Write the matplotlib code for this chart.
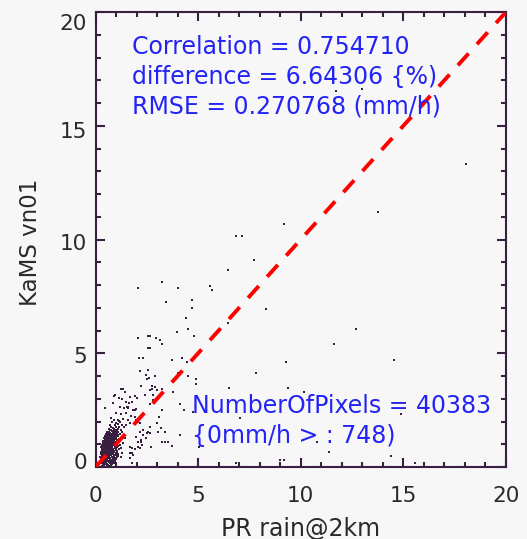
import matplotlib
matplotlib.use("Agg")
import matplotlib.pyplot as plt
import matplotlib.transforms as mtransforms
from matplotlib.ticker import MultipleLocator

plt.rcParams["lines.scale_dashes"] = False

# ---- chart content -------------------------------------------------------
x_title = "PR rain@2km"
y_title = "KaMS vn01"
stats_lines = ["Correlation = 0.754710",
               "difference = 6.64306 {%)",
               "RMSE = 0.270768 (mm/h)"]
count_lines = ["NumberOfPixels = 40383",
               "{0mm/h > : 748)"]
axis_range = [0, 20]
major_ticks = [0, 5, 10, 15, 20]

# dense group of light-rain pixels near the origin
core_pts = [
    (0.30, 0.04), (0.42, 0.07), (0.55, 0.03), (0.68, 0.06),
    (0.36, 0.10), (0.49, 0.11), (0.62, 0.09), (0.76, 0.10),
    (0.27, 0.16), (0.36, 0.13), (0.47, 0.17), (0.58, 0.14), (0.70, 0.18), (0.82, 0.12),
    (0.31, 0.20), (0.42, 0.21), (0.53, 0.19), (0.65, 0.21), (0.78, 0.20), (0.91, 0.19),
    (0.25, 0.26), (0.33, 0.23), (0.41, 0.27), (0.50, 0.24), (0.61, 0.28), (0.72, 0.22),
    (0.85, 0.27), (0.97, 0.24),
    (0.33, 0.31), (0.41, 0.30), (0.49, 0.32), (0.58, 0.31), (0.69, 0.30), (0.81, 0.31),
    (0.95, 0.30),
    (0.28, 0.36), (0.37, 0.33), (0.45, 0.37), (0.53, 0.34), (0.64, 0.38), (0.75, 0.32),
    (0.88, 0.36), (1.02, 0.34),
    (0.28, 0.41), (0.36, 0.40), (0.44, 0.42), (0.53, 0.41), (0.61, 0.40), (0.71, 0.41),
    (0.84, 0.40), (0.99, 0.41),
    (0.24, 0.46), (0.32, 0.43), (0.40, 0.47), (0.49, 0.44), (0.57, 0.48), (0.66, 0.42),
    (0.78, 0.46), (0.91, 0.44), (1.08, 0.47), (1.22, 0.43),
    (0.34, 0.51), (0.42, 0.50), (0.50, 0.52), (0.59, 0.51), (0.67, 0.50), (0.77, 0.51),
    (0.89, 0.50), (1.03, 0.51),
    (0.29, 0.56), (0.38, 0.53), (0.46, 0.57), (0.54, 0.54), (0.63, 0.58), (0.71, 0.52),
    (0.83, 0.56), (0.95, 0.54), (1.12, 0.57),
    (0.31, 0.61), (0.39, 0.60), (0.47, 0.62), (0.56, 0.61), (0.64, 0.60), (0.74, 0.61),
    (0.86, 0.60), (0.99, 0.61),
    (0.26, 0.66), (0.35, 0.63), (0.43, 0.67), (0.52, 0.64), (0.60, 0.68), (0.69, 0.62),
    (0.80, 0.66), (0.92, 0.64), (1.05, 0.67), (1.30, 0.63),
    (0.35, 0.71), (0.44, 0.70), (0.52, 0.72), (0.61, 0.71), (0.69, 0.70), (0.79, 0.71),
    (0.92, 0.70), (1.07, 0.71),
    (0.31, 0.76), (0.39, 0.73), (0.48, 0.77), (0.56, 0.74), (0.65, 0.78), (0.74, 0.72),
    (0.86, 0.76), (0.99, 0.74), (1.15, 0.77),
    (0.32, 0.81), (0.41, 0.80), (0.49, 0.82), (0.58, 0.81), (0.66, 0.80), (0.76, 0.81),
    (0.87, 0.80), (0.99, 0.81),
    (0.28, 0.86), (0.36, 0.83), (0.45, 0.87), (0.53, 0.84), (0.62, 0.88), (0.71, 0.82),
    (0.81, 0.86), (0.93, 0.84), (1.06, 0.87), (1.25, 0.83),
    (0.38, 0.91), (0.46, 0.90), (0.55, 0.92), (0.63, 0.91), (0.72, 0.90), (0.82, 0.91),
    (0.94, 0.90), (1.10, 0.91),
    (0.33, 0.96), (0.42, 0.93), (0.50, 0.97), (0.59, 0.94), (0.68, 0.98), (0.77, 0.92),
    (0.88, 0.96), (1.01, 0.94), (1.18, 0.97),
    (0.42, 1.01), (0.51, 1.00), (0.60, 1.02), (0.69, 1.01), (0.79, 1.00), (0.90, 1.01),
    (1.03, 1.00),
    (0.38, 1.06), (0.47, 1.03), (0.56, 1.07), (0.65, 1.04), (0.74, 1.08), (0.84, 1.02),
    (0.96, 1.06), (1.10, 1.04), (1.35, 1.07),
    (0.40, 1.11), (0.49, 1.10), (0.58, 1.12), (0.66, 1.11), (0.75, 1.10), (0.85, 1.11),
    (0.97, 1.10),
    (0.35, 1.16), (0.44, 1.13), (0.53, 1.17), (0.62, 1.14), (0.71, 1.18), (0.80, 1.12),
    (0.91, 1.16), (1.04, 1.14), (1.20, 1.17),
    (0.46, 1.21), (0.55, 1.20), (0.64, 1.22), (0.72, 1.21), (0.82, 1.20), (0.93, 1.21),
    (1.06, 1.20),
    (0.41, 1.26), (0.50, 1.23), (0.59, 1.27), (0.68, 1.24), (0.77, 1.28), (0.87, 1.22),
    (0.99, 1.26), (1.14, 1.24), (1.42, 1.27),
    (0.51, 1.31), (0.60, 1.30), (0.69, 1.32), (0.78, 1.31), (0.88, 1.30), (1.01, 1.31),
    (0.46, 1.36), (0.55, 1.33), (0.64, 1.37), (0.73, 1.34), (0.83, 1.38), (0.94, 1.32),
    (1.08, 1.36), (1.28, 1.34),
    (0.57, 1.41), (0.66, 1.40), (0.75, 1.42), (0.85, 1.41), (0.96, 1.40), (1.09, 1.41),
    (0.52, 1.46), (0.61, 1.43), (0.70, 1.47), (0.80, 1.44), (0.90, 1.48), (1.02, 1.42),
    (1.17, 1.46),
    (0.63, 1.51), (0.73, 1.50), (0.84, 1.52), (0.94, 1.51), (1.06, 1.50),
    (0.58, 1.56), (0.68, 1.53), (0.78, 1.57), (0.89, 1.54), (1.00, 1.58), (1.12, 1.52),
    (1.31, 1.56),
    (0.72, 1.61), (0.83, 1.60), (0.93, 1.62), (1.04, 1.61),
    (0.66, 1.66), (0.77, 1.63), (0.88, 1.67), (0.98, 1.64), (1.10, 1.68), (1.24, 1.62),
    (0.74, 1.76), (0.86, 1.73), (1.00, 1.77), (1.16, 1.74), (1.38, 1.76),
    (0.70, 1.86), (0.93, 1.83), (1.08, 1.87), (1.27, 1.84),
    (0.82, 1.96), (1.02, 1.93), (1.20, 1.97),
    (0.90, 2.06), (1.13, 2.03),
]

# remaining, more scattered pixels
scatter_pts = [
    (18.07, 13.33), (13.77, 11.22), (9.20, 10.70), (6.85, 10.17), (7.15, 10.17),
    (7.73, 9.11), (6.45, 8.67), (2.06, 7.88), (3.23, 8.15), (4.01, 7.88),
    (5.59, 7.97), (5.68, 7.78), (3.44, 7.27), (4.69, 7.35), (4.69, 7.00),
    (8.30, 6.93), (6.94, 6.93), (6.45, 6.32), (4.40, 6.56), (3.99, 5.95),
    (4.50, 6.05), (4.79, 5.77), (12.71, 6.05), (2.06, 5.68), (2.58, 5.77),
    (2.66, 5.77), (2.94, 5.68), (3.13, 5.60), (3.23, 5.42), (2.58, 5.24),
    (2.66, 5.24), (11.60, 5.42), (2.14, 4.80), (2.33, 4.80), (3.72, 4.70),
    (4.20, 4.78), (4.45, 4.63), (9.29, 4.63), (14.56, 4.71), (11.73, 16.53),
    (12.99, 16.60), (4.04, 4.12), (4.50, 4.00), (4.90, 3.85), (4.90, 3.65),
    (2.17, 4.20), (2.55, 4.28), (2.48, 4.04), (2.92, 4.01), (2.63, 3.90),
    (2.24, 3.58), (2.53, 3.88), (2.77, 3.56), (2.92, 3.50), (2.74, 3.45),
    (2.98, 3.40), (2.64, 3.40), (3.23, 3.42), (3.80, 3.31), (2.41, 3.16),
    (2.82, 3.16), (1.93, 3.12), (1.33, 3.42), (7.83, 4.12), (6.52, 3.49),
    (9.37, 3.49), (10.17, 3.31), (2.82, 2.95), (2.66, 2.77), (4.12, 2.75),
    (4.30, 2.50), (4.77, 2.43), (3.23, 2.51), (3.11, 2.21), (3.01, 1.92),
    (3.06, 1.55), (3.20, 1.70), (2.66, 1.77), (2.58, 1.55), (3.39, 1.55),
    (3.55, 1.11), (3.72, 0.94), (4.12, 1.41), (3.23, 1.11), (3.39, 1.11),
    (2.20, 1.11), (2.33, 1.41), (2.50, 1.48), (2.17, 1.55), (1.98, 2.07),
    (2.09, 1.99), (1.93, 2.51), (2.01, 3.02), (0.90, 3.12), (1.15, 3.02),
    (1.28, 2.99), (0.46, 2.58), (1.52, 2.65), (1.60, 2.58), (1.68, 0.89),
    (1.77, 0.82), (1.77, 0.60), (1.77, 0.16), (1.03, 0.43), (7.05, 2.17),
    (5.02, 0.89), (10.79, 1.10), (11.36, 0.67), (14.90, 2.33), (14.40, 0.50),
    (15.59, 0.16), (8.97, 0.31), (9.16, 0.31), (6.85, 0.16), (1.68, 0.60),
    (1.84, 0.53), (2.25, 0.97), (2.09, 0.89), (0.94, 3.16), (1.26, 3.42),
    (1.42, 3.31), (1.67, 3.09), (0.85, 2.80), (1.50, 2.87), (1.63, 2.80),
    (1.80, 2.87), (1.18, 2.65), (1.39, 2.58), (1.59, 2.65), (1.83, 2.51),
    (1.99, 2.54), (1.02, 2.36), (1.26, 2.33), (1.50, 2.39), (1.75, 2.24),
    (1.91, 2.21), (0.77, 2.14), (1.10, 2.07), (1.34, 2.10), (1.59, 2.07),
    (1.67, 1.92), (1.50, 1.85), (1.99, 2.07), (2.15, 1.92), (2.32, 1.63),
    (2.64, 1.48), (2.48, 1.26), (2.24, 1.19), (1.99, 1.33), (2.07, 1.11),
    (2.15, 0.82), (1.91, 0.78), (2.72, 0.89), (1.83, 0.53), (1.67, 0.38),
]

# ---- styling --------------------------------------------------------------
W, H, DPI = 527, 539, 100
bg = "#f7f7f7"
ink = "#3a2040"
text_dark = "#2a2a2a"
stat_blue = "#2323f5"

fig = plt.figure(figsize=(W / DPI, H / DPI), dpi=DPI, facecolor=bg)
left_px, right_px, top_px, bottom_px = 95.5, 506.0, 12.0, 467.0
ax = fig.add_axes([left_px / W, 1 - bottom_px / H,
                   (right_px - left_px) / W, (bottom_px - top_px) / H],
                  facecolor=bg)

ax.set_xlim(axis_range)
ax.set_ylim(axis_range)
ax.set_xticks(major_ticks)
ax.set_yticks(major_ticks)
ax.xaxis.set_minor_locator(MultipleLocator(1))
ax.yaxis.set_minor_locator(MultipleLocator(1))

for sp in ax.spines.values():
    sp.set_color(ink)
    sp.set_linewidth(1.5)

ax.tick_params(which="both", direction="in", top=True, right=True,
               color=ink, width=1.5, labelcolor=text_dark, labelsize=15.5)
ax.tick_params(which="major", length=6.8)
ax.tick_params(which="minor", length=3.6)
ax.tick_params(axis="x", pad=14)
ax.tick_params(axis="y", pad=6)

# y tick labels sit slightly inside the ends of the axis
y_shift_px = {0: 6, 5: -2, 10: -3, 15: -4, 20: -10}
for val, lab in zip(major_ticks, ax.get_yticklabels()):
    off = mtransforms.ScaledTranslation(0, y_shift_px[val] / DPI, fig.dpi_scale_trans)
    lab.set_transform(lab.get_transform() + off)

# scatter of pixels
all_pts = core_pts + scatter_pts
xs = [p[0] for p in all_pts]
ys = [p[1] for p in all_pts]
ax.plot(xs, ys, linestyle="none", marker="s", markersize=1.9,
        markeredgewidth=0, color=ink, zorder=2, clip_on=False)

# 1:1 reference line
ax.plot(axis_range, axis_range, color="#ff0000", linewidth=2.8,
        linestyle=(0, (11.5, 9.0)), dash_capstyle="butt", zorder=3)

# statistics annotations
def fig_xy(px, py):
    return px / W, 1 - py / H

for i, line in enumerate(stats_lines):
    fig.text(*fig_xy(132, 54.3 + 29.4 * i), line, color=stat_blue,
             fontsize=17, ha="left", va="baseline")
for i, line in enumerate(count_lines):
    fig.text(*fig_xy(191.5, 413.3 + 30.0 * i), line, color=stat_blue,
             fontsize=17, ha="left", va="baseline")

# axis titles
fig.text(*fig_xy(301, 535.5), x_title, color=text_dark, fontsize=17,
         ha="center", va="baseline")
fig.text(*fig_xy(37, 242), y_title, color=text_dark, fontsize=16.5,
         ha="center", va="baseline", rotation=90, rotation_mode="anchor")

fig.savefig("out.png", dpi=DPI, facecolor=bg)
